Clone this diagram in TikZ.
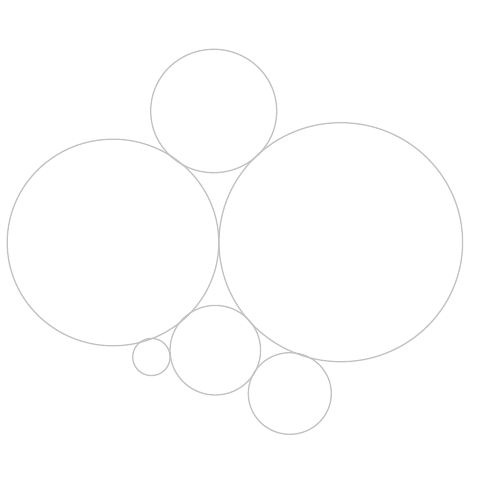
\documentclass[tikz,border=0pt]{standalone}
\begin{document}
\begin{tikzpicture}[x=1pt,y=-1pt,ring/.style={draw=black!24,line width=1.3pt}]
\useasboundingbox (0,0) rectangle (480,480);
\draw[ring] (213.7,111) ellipse [x radius=63, y radius=61.7];
\draw[ring] (113,242.5) ellipse [x radius=105.8, y radius=103.3];
\draw[ring] (340.8,242.2) ellipse [x radius=121.8, y radius=119.5];
\draw[ring] (151.4,357) ellipse [x radius=18.7, y radius=18.6];
\draw[ring] (215.3,350.2) ellipse [x radius=45.3, y radius=44.8];
\draw[ring] (289.8,393.5) ellipse [x radius=41.5, y radius=40.8];
\end{tikzpicture}
\end{document}
